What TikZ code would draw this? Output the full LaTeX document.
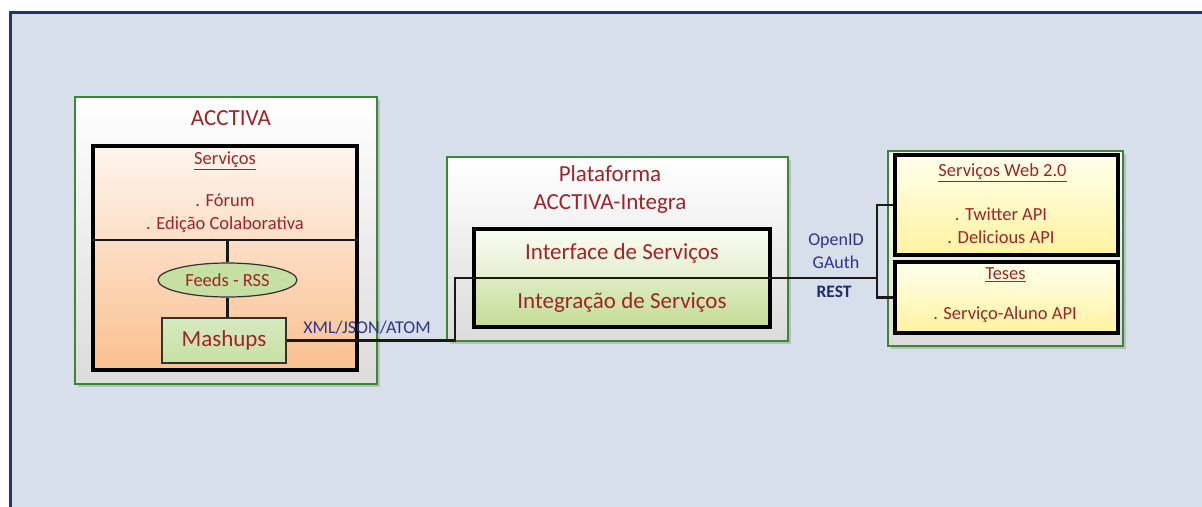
\documentclass[tikz,border=0pt]{standalone}
\usepackage{fontspec}
\setmainfont{Carlito}
\usetikzlibrary{shapes.geometric,shadows}

\definecolor{bgblue}{RGB}{214,223,234}
\definecolor{frameblue}{RGB}{31,56,100}
\definecolor{grnedge}{RGB}{60,135,50}
\definecolor{txtred}{RGB}{160,36,40}
\definecolor{txtblue}{RGB}{46,52,140}
\definecolor{restblue}{RGB}{30,44,110}
\definecolor{peachtop}{RGB}{254,245,238}
\definecolor{peachbot}{RGB}{250,192,143}
\definecolor{lgtop}{RGB}{250,252,243}
\definecolor{lgbot}{RGB}{228,239,206}
\definecolor{gtop}{RGB}{222,236,196}
\definecolor{gbot}{RGB}{196,220,150}
\definecolor{ytop}{RGB}{255,255,236}
\definecolor{ybot}{RGB}{255,243,160}
\definecolor{leaf}{RGB}{198,224,164}
\definecolor{greyedge}{RGB}{50,50,50}

\tikzset{
  panel/.style={draw=grnedge, line width=1.4pt, top color=white, bottom color=black!14,
    inner sep=0pt, drop shadow={shadow xshift=3pt, shadow yshift=-3pt, fill=black!40, opacity=0.45}},
  blk/.style={draw=black, line width=3.5pt, inner sep=0pt},
  ybox/.style={top color=ytop, bottom color=ybot},
  part/.style={inner sep=0pt, text=txtred, font=\fontsize{23}{27}\selectfont},
  bigtxt/.style={text=txtred, inner sep=0pt, align=center, font=\fontsize{23}{28}\selectfont},
  smtxt/.style={text=txtred, inner sep=0pt, align=center, font=\fontsize{18.5}{23}\selectfont},
  lbl/.style={text=txtblue, inner sep=0pt, align=center, font=\fontsize{18}{23}\selectfont},
  conn/.style={draw=black!90, line width=2.4pt},
  link/.style={draw=black!90, line width=2.6pt}
}

\begin{document}
\begin{tikzpicture}[x=1pt, y=-1pt]
  \useasboundingbox (0,0) rectangle (1202,506);
  \clip (0,0) rectangle (1202,506);

  % background frame
  \fill[bgblue] (10,12.5) rectangle (1220,520);
  \draw[frameblue, line width=3pt] (10,520) -- (10,12.5) -- (1220,12.5);

  % ---------- ACCTIVA ----------
  \node[panel, minimum width=302, minimum height=287] (acc) at (226,240.5) {};
  \node[blk, top color=peachtop, bottom color=peachbot, minimum width=264, minimum height=224] (accin) at (225,258) {};
  \node[bigtxt] (acct) at (231,118) {ACCTIVA};
  \node[smtxt] (srv) at (225,161) {\underline{Serviços}};
  \node[smtxt] (srvl) at (225,213) {. Fórum\\. Edição Colaborativa};
  \coordinate (div) at (0,240);
  \draw[conn] (accin.west |- div) -- (accin.east |- div);
  \node[ellipse, draw=greyedge, line width=1.2pt, fill=leaf, minimum width=139, minimum height=34,
        inner sep=0pt, text=txtred, font=\fontsize{18.5}{22}\selectfont] (feeds) at (227.5,280) {Feeds - RSS};
  \node[draw=greyedge, line width=1.2pt, top color=leaf!70, bottom color=leaf, minimum width=124,
        minimum height=45, inner sep=0pt, text=txtred, font=\fontsize{23}{27}\selectfont] (mash) at (224,340.5) {Mashups};
  \draw[conn] (feeds.north |- div) -- (feeds.north);
  \draw[conn] (feeds.south) -- (feeds.south |- mash.north);

  % ---------- Plataforma ACCTIVA-Integra ----------
  \node[panel, minimum width=341, minimum height=184] (plat) at (617.5,249) {};
  \node[bigtxt] (platt) at (610,189) {Plataforma\\ACCTIVA-Integra};
  \node[part, top color=lgtop, bottom color=lgbot, minimum width=296, minimum height=48] (iface) at (622,253) {Interface de Serviços};
  \node[part, top color=gtop, bottom color=gbot, minimum width=296, minimum height=50] (integ) at (622,302) {\raisebox{3pt}{Integração de Serviços}};
  \node[blk, minimum width=296, minimum height=98] (platin) at (622,278) {};

  % ---------- external services ----------
  \node[panel, minimum width=235, minimum height=195] (ext) at (1005.5,248.5) {};
  \node[blk, ybox, minimum width=223, minimum height=100] (web) at (1006.5,205) {};
  \node[blk, ybox, minimum width=223, minimum height=71] (teses) at (1006.5,297.5) {};
  \node[smtxt] (webt) at (1002.5,173) {\underline{Serviços Web 2.0}};
  \node[smtxt] (webl) at (1001,225.5) {. Twitter API\\. Delicious API};
  \node[smtxt] (test) at (1005.5,275) {\underline{Teses}};
  \node[smtxt] (tesl) at (1005,315) {. Serviço-Aluno API};

  % ---------- connectors ----------
  \coordinate (bend) at (455,278);
  \coordinate (hub) at (877,278);
  \draw[link] (mash.east) -| (bend) -- (hub);
  \draw[link] (hub) |- (web.west);
  \draw[link] (hub) |- (teses.west);

  \node[lbl] (xml) at (367,328) {XML/JSON/ATOM};
  \node[lbl] (auth) at (836,251.5) {OpenID\\GAuth};
  \node[lbl, text=restblue, font=\bfseries\fontsize{17.5}{20}\selectfont] (rest) at (834,292) {REST};
\end{tikzpicture}
\end{document}
